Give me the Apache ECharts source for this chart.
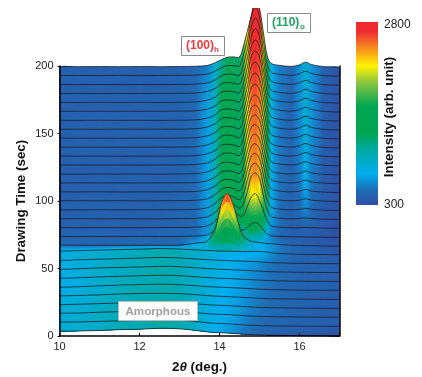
<!DOCTYPE html>
<html><head><meta charset="utf-8">
<style>html,body{margin:0;padding:0;background:#fff}#c{width:422px;height:377px}</style>
<script src="https://cdn.jsdelivr.net/npm/echarts@6/dist/echarts.min.js"></script>
</head><body><div id="c"></div>
<script>
const twoTheta=[10,10.5,11,11.5,12,12.5,13,13.4,13.7,13.9,14.05,14.2,14.35,14.5,14.6,14.7,14.8,14.9,15,15.1,15.2,15.3,15.5,15.8,16,16.15,16.3,16.6,17];
const drawTimes=[0,6.6,13.3,19.9,26.5,33.2,39.8,46.4,53,59.7,66.3,72.9,79.6,86.2,92.8,99.5,106.1,112.7,119.3,126,132.6,139.2,145.9,152.5,159.1,165.8,172.4,179,185.6,192.3,198.9];
const xTicks=[10,12,14,16];
const yTicks=[0,50,100,150,200];
const k00=[480,490,510,540,555,590,570,510,455,430,420,410,395,380,368,358,350,345,340,335,332,330,326,320,315,312,310,305,300];
const k01=[490,495,515,535,550,580,565,510,465,445,435,425,410,395,382,372,365,360,355,350,348,345,342,338,335,333,335,332,330];
const k02=[480,490,520,540,555,570,560,505,465,445,440,430,418,405,392,382,375,368,362,358,355,352,348,342,338,336,335,332,328];
const k03=[470,485,510,530,550,575,555,500,470,450,442,432,420,410,400,390,382,375,368,362,358,355,350,343,338,336,334,330,325];
const k04=[465,480,505,535,555,560,550,510,475,455,445,435,425,415,405,395,388,380,372,365,360,356,350,344,340,337,335,332,328];
const k05=[445,470,500,530,550,565,545,505,475,458,448,438,428,418,408,400,392,385,378,370,364,358,352,345,340,338,336,333,330];
const k06=[450,470,500,525,545,565,550,505,478,460,450,440,430,420,412,404,396,388,380,372,366,360,352,345,340,338,336,332,328];
const k07=[450,475,505,525,540,565,550,510,480,462,452,443,433,424,416,408,400,392,384,376,368,362,354,346,341,338,335,332,330];
const k08=[450,475,500,520,540,565,545,510,482,465,455,446,437,430,424,418,412,405,396,386,376,368,356,346,340,338,336,332,330];
const k09=[455,480,500,520,535,560,540,510,485,470,462,458,452,448,446,446,448,450,448,440,420,400,372,352,342,338,336,332,328];
const k10=[355,352,348,350,352,350,355,430,510,1020,1950,2300,1840,1050,680,565,490,470,450,430,410,405,375,345,340,335,330,320,310];
const k11=[340,342,338,340,345,342,345,360,410,620,1100,1500,1120,640,590,690,820,870,770,590,430,375,345,330,325,325,322,315,305];
const k12=[335,330,335,332,330,338,340,352,405,600,880,1160,1000,770,810,1150,1500,1620,1350,950,560,400,350,330,330,340,330,318,305];
const k13=[330,338,330,335,332,330,342,352,410,590,820,980,880,730,900,1400,1960,2060,1860,1200,640,420,355,332,345,365,342,320,308];
const k14=[335,330,338,330,335,334,338,350,415,585,790,890,820,720,940,1480,2000,2090,1900,1250,660,430,358,335,350,390,350,322,305];
const k15=[332,336,332,338,330,335,340,352,415,575,770,840,790,710,960,1520,2040,2120,1930,1290,680,440,360,335,355,410,358,325,308];
const k16=[335,332,336,330,334,332,338,348,420,570,760,810,770,700,970,1550,2070,2150,1960,1320,690,445,362,336,362,425,365,325,306];
const k17=[330,335,332,336,332,336,340,350,418,565,755,790,760,700,985,1570,2090,2175,1980,1350,700,450,365,335,368,440,372,326,308];
const k18=[334,330,335,332,336,330,338,350,420,560,750,780,755,695,990,1590,2120,2200,2010,1370,705,450,365,336,372,450,378,325,305];
const k19=[332,334,330,335,332,335,340,352,420,560,750,790,760,695,1000,1600,2140,2225,2030,1390,710,455,366,335,376,460,384,326,306];
const k20=[335,332,336,330,334,332,338,350,422,555,748,780,755,695,1005,1610,2170,2250,2060,1410,715,458,368,336,380,470,388,328,308];
const k21=[332,335,333,338,332,336,340,352,420,555,745,790,760,690,1010,1620,2210,2300,2110,1440,720,460,368,335,384,475,392,326,306];
const k22=[336,332,335,332,336,333,338,350,422,552,745,780,750,690,1020,1630,2270,2370,2170,1470,725,460,370,336,388,480,396,328,305];
const k23=[332,334,331,335,332,335,340,352,420,550,740,770,745,690,1030,1640,2330,2450,2240,1500,725,462,370,335,390,485,400,326,306];
const k24=[335,331,336,332,335,331,338,350,420,548,735,765,740,690,1040,1650,2400,2530,2310,1520,728,462,370,336,392,488,402,328,308];
const k25=[331,335,332,336,331,335,339,352,418,545,730,760,738,688,1050,1660,2440,2610,2380,1540,725,460,372,336,394,490,404,330,306];
const k26=[334,331,335,331,336,332,338,350,418,540,720,755,735,690,1060,1670,2480,2690,2430,1560,725,460,372,338,395,492,405,330,308];
const k27=[332,335,331,335,332,335,340,350,410,530,700,745,725,690,1080,1680,2520,2790,2480,1580,720,458,372,338,396,495,406,330,306];
const k28=[335,331,336,332,335,331,338,350,400,515,670,730,715,690,1100,1690,2560,2850,2520,1590,715,455,375,340,397,495,408,332,308];
const k29=[331,335,332,336,331,335,339,348,390,505,630,710,705,690,1115,1695,2580,2900,2560,1600,705,452,378,340,398,498,408,332,306];
const k30=[334,332,335,331,336,332,338,346,380,490,600,690,700,700,1130,1700,2300,2950,2540,1600,700,450,380,342,400,500,410,335,310];
const traces=[k00,k01,k02,k03,k04,k05,k06,k07,k08,k09,k10,k11,k12,k13,k14,k15,k16,k17,k18,k19,k20,k21,k22,k23,k24,k25,k26,k27,k28,k29,k30];

const intensityMin=300, intensityMax=2800;
const secondsPerUnit=0.0196;
const colorScale=[[0,'#2f4fa5'],[0.08,'#1f6db5'],[0.17,'#00aeef'],[0.31,'#00a99d'],[0.39,'#00a651'],[0.54,'#00a651'],[0.67,'#8cc63f'],[0.76,'#fff200'],[0.85,'#f7941d'],[0.95,'#ed2a30'],[1,'#ed2a30']];

const rgb=h=>[1,3,5].map(i=>parseInt(h.substr(i,2),16));
function position(I){return Math.max(0,Math.min(1,Math.log(I/intensityMin)/Math.log(intensityMax/intensityMin)));}
function colorAt(c){
  for(let i=1;i<colorScale.length;i++){
    if(c<=colorScale[i][0]){
      const [p0,h0]=colorScale[i-1],[p1,h1]=colorScale[i];
      const f=(c-p0)/(p1-p0),a=rgb(h0),b=rgb(h1);
      return `rgb(${a.map((v,j)=>Math.round(v+(b[j]-v)*f)).join(',')})`;
    }
  }
  return colorScale[colorScale.length-1][1];
}
const strips=7;
function traceValue(k,j){return drawTimes[k]+secondsPerUnit*(traces[k][j]-intensityMin);}

function renderTrace(params,api){
  const k=api.value(0);
  const left=api.coord([twoTheta[0],0]), right=api.coord([twoTheta[twoTheta.length-1],0]);
  const upper=twoTheta.map((x,j)=>api.coord([x,traceValue(k,j)]));
  const children=[];
  if(k>0){
    const lower=twoTheta.map((x,j)=>api.coord([x,traceValue(k-1,j)]));
    for(let s=0;s<strips;s++){
      const f=s/strips;
      const top=upper.map((p,j)=>[p[0],p[1]+(lower[j][1]-p[1])*f]);
      const colorStops=twoTheta.map((x,j)=>{
        const c=position(traces[k][j])*(1-f)+position(traces[k-1][j])*f;
        return {offset:(x-twoTheta[0])/(twoTheta[twoTheta.length-1]-twoTheta[0]),color:colorAt(c)};
      });
      children.push({type:'polygon',shape:{points:top.concat(lower.slice().reverse()),smooth:0.35},
        style:{fill:{type:'linear',global:true,x:left[0],y:0,x2:right[0],y2:0,colorStops}}});
    }
  }
  children.push({type:'polyline',shape:{points:upper,smooth:0.35},style:{fill:null,stroke:'#1a1a24',lineWidth:0.75}});
  return {type:'group',clipPath:{type:'rect',shape:{x:left[0],y:8,width:right[0]-left[0],height:left[1]-7}},children};
}
const order=traces.map((_,k)=>[traces.length-1-k]);

const font='"Liberation Sans",Arial,sans-serif';
const barStops=colorScale.map(([p,c])=>({offset:1-p,color:c})).reverse();
const chart=echarts.init(document.getElementById('c'),null,{renderer:'canvas'});
chart.setOption({
  animation:false,backgroundColor:'#fff',
  grid:{left:59.5,top:66,width:280,height:270,show:false,outerBoundsMode:'none',containLabel:false},
  xAxis:{type:'value',min:10,max:17,interval:2,z:10,
    name:'{b|2}{i|θ}{b| (deg.)}',nameLocation:'middle',nameGap:25,nameMoveOverlap:false,
    nameTextStyle:{rich:{b:{fontFamily:font,fontWeight:'bold',fontSize:13.4,color:'#111'},i:{fontFamily:font,fontWeight:'bold',fontStyle:'italic',fontSize:13.4,color:'#111'}}},
    axisLine:{show:true,onZero:false,lineStyle:{color:'#000',width:1.5}},
    axisTick:{show:true,inside:true,length:3,lineStyle:{color:'#000',width:1}},
    axisLabel:{fontFamily:font,fontSize:11,color:'#222',margin:5,formatter:v=>xTicks.includes(v)?String(v):''},
    splitLine:{show:false}},
  yAxis:[{type:'value',min:0,max:200,interval:50,z:10,
    name:'Drawing Time (sec)',nameLocation:'middle',nameGap:32,nameRotate:90,nameMoveOverlap:false,
    nameTextStyle:{fontFamily:font,fontWeight:'bold',fontSize:13.4,color:'#111'},
    axisLine:{show:true,onZero:false,lineStyle:{color:'#000',width:1.5}},
    axisTick:{show:true,length:2,lineStyle:{color:'#000',width:1}},
    axisLabel:{fontFamily:font,fontSize:11,color:'#222',margin:6,formatter:v=>yTicks.includes(v)?String(v):''},
    splitLine:{show:false}},
   {type:'value',min:0,max:200,interval:50,z:10,position:'right',
    axisLine:{show:true,onZero:false,lineStyle:{color:'#000',width:1.5}},
    axisTick:{show:false},axisLabel:{show:false},splitLine:{show:false}}],
  series:[{type:'custom',coordinateSystem:'cartesian2d',renderItem:renderTrace,data:order,encode:{x:[],y:[]},silent:true,clip:false}],
  graphic:[
    {type:'rect',z:100,shape:{x:356,y:22,width:22,height:183},style:{fill:{type:'linear',x:0,y:0,x2:0,y2:1,colorStops:barStops}}},
    {type:'text',z:100,x:384,y:25,style:{text:'2800',font:'12px '+font,fill:'#222',verticalAlign:'middle'}},
    {type:'text',z:100,x:384,y:205,style:{text:'300',font:'12px '+font,fill:'#222',verticalAlign:'middle'}},
    {type:'text',z:100,x:389,y:117,rotation:Math.PI/2,style:{text:'Intensity (arb. unit)',font:'bold 13.4px '+font,fill:'#111',align:'center',verticalAlign:'middle'}},
    {type:'rect',z:100,shape:{x:181.5,y:36.5,width:43,height:19},style:{fill:'#fff',stroke:'#8a8a8a',lineWidth:1}},
    {type:'text',z:101,x:186,y:46,style:{text:'(100)',font:'bold 12px '+font,fill:'#ee3a43',verticalAlign:'middle'}},
    {type:'text',z:101,x:214,y:50,style:{text:'h',font:'bold 8px '+font,fill:'#ee3a43',verticalAlign:'middle'}},
    {type:'rect',z:100,shape:{x:267.5,y:13.5,width:43,height:19},style:{fill:'#fff',stroke:'#8a8a8a',lineWidth:1}},
    {type:'text',z:101,x:272,y:23,style:{text:'(110)',font:'bold 12px '+font,fill:'#1fa463',verticalAlign:'middle'}},
    {type:'text',z:101,x:300,y:27,style:{text:'o',font:'bold 8px '+font,fill:'#1fa463',verticalAlign:'middle'}},
    {type:'rect',z:100,shape:{x:118.5,y:301.5,width:79,height:19},style:{fill:'#fff',stroke:'#c4b8b8',lineWidth:1}},
    {type:'text',z:101,x:158,y:311.5,style:{text:'Amorphous',font:'bold 11.6px '+font,fill:'#a0a0a0',align:'center',verticalAlign:'middle'}}
  ]
});
</script></body></html>
